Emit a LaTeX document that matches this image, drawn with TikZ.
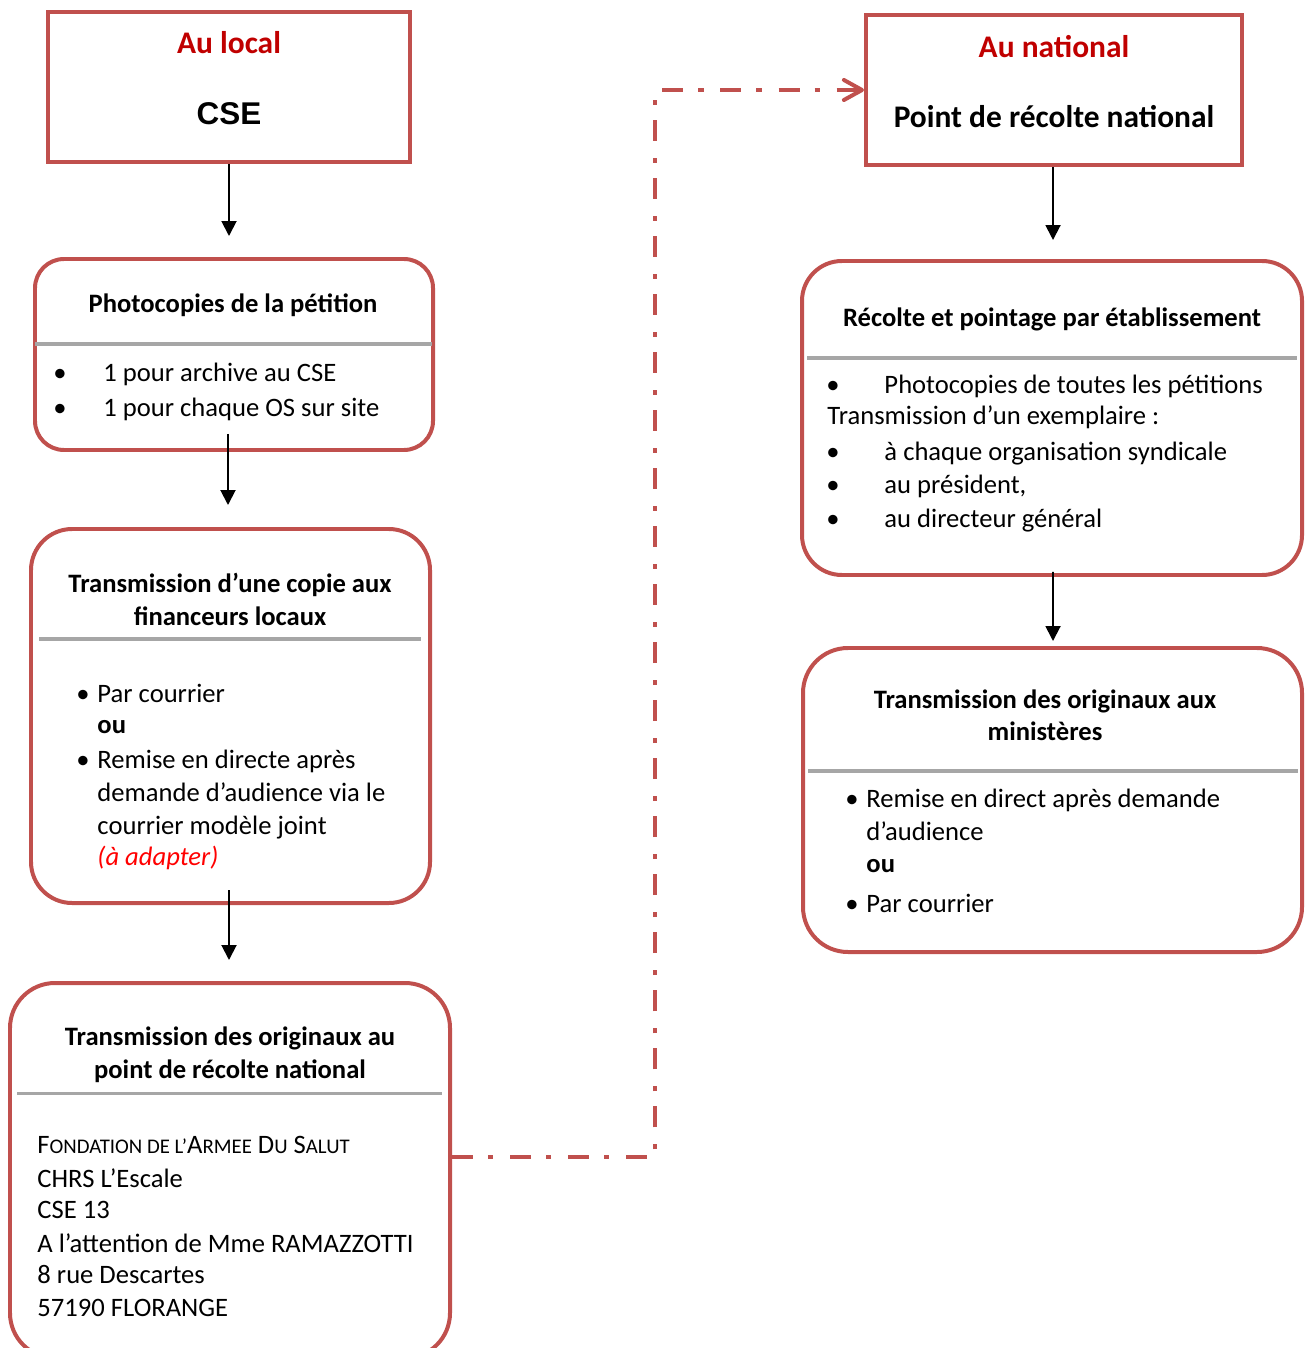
\documentclass[tikz,border=0pt]{standalone}
\usepackage{fontspec}
\setmainfont{Carlito}
\newfontfamily\arialfont{Liberation Sans}
\usetikzlibrary{positioning, calc, arrows.meta, fit}

\definecolor{boxred}{HTML}{C0504D}
\definecolor{headred}{HTML}{C00000}
\definecolor{sepgray}{HTML}{A6A6A6}

\newcommand{\fakesc}[1]{{\fontsize{8.6}{10}\selectfont #1}}

\tikzset{
  sqbox/.style={draw=boxred, line width=1.65pt, inner sep=0pt},
  rndbox/.style={draw=boxred, line width=1.65pt, inner sep=0pt, rounded corners=#1},
  rndbox/.default=16pt,
  sepline/.style={draw=sepgray, line width=1.25pt},
  flow/.style={-{Triangle[length=6.2pt,width=6.2pt]}, line width=0.8pt},
  link/.style={draw=boxred, line width=1.65pt,
    dash pattern=on 8.7pt off 6.2pt on 2.1pt off 7pt,
    -{Straight Barb[length=7.5pt,width=8.3pt,round]}},
  head/.style={font=\fontsize{13}{15}\selectfont\bfseries, anchor=base, inner sep=0pt},
  title/.style={font=\fontsize{11}{13}\selectfont\bfseries, anchor=base, inner sep=0pt},
  txt/.style={font=\fontsize{11}{13}\selectfont, anchor=base west, inner sep=0pt},
  bul/.style={font=\fontsize{11}{13}\selectfont, anchor=base, inner sep=0pt},
}

\begin{document}
\begin{tikzpicture}[x=0.4135pt, y=-0.4135pt]
    \useasboundingbox (0,0) rectangle (1306,1348);

    % ================= Au local =================
    \node[sqbox, fit={(48,12) (410,162)}] (cse) {};
    \node[head, text=headred] (cse-t1) at (229,54) {Au local};
    \node[head, font=\arialfont\fontsize{13}{15}\selectfont\bfseries] (cse-t2) at (229,125) {CSE};

    % Photocopies
    \node[rndbox=12pt, fit={(35,259) (433,450)}] (photo) {};
    \node[title] (photo-t) at (233,313) {Photocopies de la pétition};
    \draw[sepline] (35,344) -- (432,344);
    \node[bul] (photo-b1) at (60,382) {\textbullet};
    \node[txt] (photo-i1) at (103,382) {1 pour archive au CSE};
    \node[bul] (photo-b2) at (60,416) {\textbullet};
    \node[txt] (photo-i2) at (103,416) {1 pour chaque OS sur site};

    % Financeurs locaux
    \node[rndbox=17pt, fit={(31,529) (430,903)}] (fin) {};
    \node[title] (fin-t1) at (230,592) {Transmission d’une copie aux};
    \node[title] (fin-t2) at (230,625) {financeurs locaux};
    \draw[sepline] (39,639) -- (421,639);
    \node[bul] (fin-b1) at (83,702) {\textbullet};
    \node[txt] (fin-i1) at (97,702) {Par courrier};
    \node[txt] (fin-i2) at (97,733) {\textbf{ou}};
    \node[bul] (fin-b3) at (83,768) {\textbullet};
    \node[txt] (fin-i3) at (97,768) {Remise en directe après};
    \node[txt] (fin-i4) at (97,801) {demande d’audience via le};
    \node[txt] (fin-i5) at (97,834) {courrier modèle joint};
    \node[txt, text=red] (fin-i6) at (97,865) {\textit{(à adapter)}};

    % Originaux au point de recolte
    \node[rndbox=18.6pt, fit={(10,983) (450,1358)}] (orig) {};
    \node[title] (orig-t1) at (230,1045) {Transmission des originaux au};
    \node[title] (orig-t2) at (230,1078) {point de récolte national};
    \draw[sepline] (17,1093) -- (442,1093);
    \node[txt] (orig-a1) at (37,1153) {F\fakesc{ONDATION DE L’}A\fakesc{RMEE} D\fakesc{U} S\fakesc{ALUT}};
    \node[txt] (orig-a2) at (37,1187) {CHRS L’Escale};
    \node[txt] (orig-a3) at (37,1218) {CSE 13};
    \node[txt] (orig-a4) at (37,1252) {A l’attention de Mme RAMAZZOTTI};
    \node[txt] (orig-a5) at (37,1283) {8 rue Descartes};
    \node[txt] (orig-a6) at (37,1316) {57190 FLORANGE};

    % ================= Au national =================
    \node[sqbox, fit={(866,15) (1242,165)}] (national) {};
    \node[head, text=headred] (national-t1) at (1054,58) {Au national};
    \node[head] (national-t2) at (1054,128) {Point de récolte national};

    % Recolte et pointage
    \node[rndbox=16.5pt, fit={(802,261) (1302,575)}] (recolte) {};
    \node[title] (recolte-t) at (1052,327) {Récolte et pointage par établissement};
    \draw[sepline] (807,358) -- (1297,358);
    \node[bul] (recolte-b1) at (833,393) {\textbullet};
    \node[txt] (recolte-i1) at (884,393) {Photocopies de toutes les pétitions};
    \node[txt] (recolte-i2) at (827,425) {Transmission d’un exemplaire :};
    \node[bul] (recolte-b3) at (833,460) {\textbullet};
    \node[txt] (recolte-i3) at (884,460) {à chaque organisation syndicale};
    \node[bul] (recolte-b4) at (833,493) {\textbullet};
    \node[txt] (recolte-i4) at (884,493) {au président,};
    \node[bul] (recolte-b5) at (833,527) {\textbullet};
    \node[txt] (recolte-i5) at (884,527) {au directeur général};

    % Ministeres
    \node[rndbox=18.6pt, fit={(803,648) (1302,952)}] (ministere) {};
    \node[title] (ministere-t1) at (1045,708) {Transmission des originaux aux};
    \node[title] (ministere-t2) at (1045,740) {ministères};
    \draw[sepline] (808,771) -- (1298,771);
    \node[bul] (ministere-b1) at (852,807) {\textbullet};
    \node[txt] (ministere-i1) at (866,807) {Remise en direct après demande};
    \node[txt] (ministere-i2) at (866,840) {d’audience};
    \node[txt] (ministere-i3) at (866,872) {\textbf{ou}};
    \node[bul] (ministere-b4) at (852,912) {\textbullet};
    \node[txt] (ministere-i4) at (866,912) {Par courrier};

    % ================= Arrows =================
    \draw[flow] (cse.south) -- ($(photo.north)+(-5,-21)$);
    \draw[flow] ($(photo.south)+(-6,-18)$) -- ($(fin.north)+(-2.5,-22)$);
    \draw[flow] ($(fin.south)+(-1.5,-15)$) -- ($(orig.north)+(-1,-21)$);
    \draw[flow] ($(national.south)+(-1,0)$) -- ($(recolte.north)+(1,-19)$);
    \draw[flow] ($(recolte.south)+(1,-5)$) -- ($(ministere.north)+(0.5,-5)$);

    % Link to the national collection point
    \coordinate (turn) at ($(national.west)+(-209,0)$);
    \draw[link] ($(orig.east)+(0,-14)$) -| (turn) -- (national.west);

\end{tikzpicture}
\end{document}
